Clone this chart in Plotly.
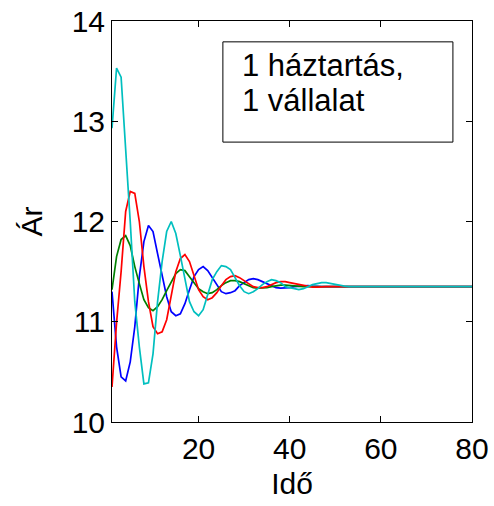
import plotly.graph_objects as go

# Time steps
t = list(range(1, 81))

# Price paths (Ár) over time (Idő)
price_blue = [
    11.30, 10.75, 10.45, 10.41, 10.60, 10.95, 11.45, 11.80, 11.96, 11.90,
    11.68, 11.45, 11.25, 11.10, 11.06, 11.08, 11.18, 11.32, 11.45, 11.52,
    11.55, 11.51, 11.44, 11.36, 11.30, 11.28, 11.29, 11.31, 11.36, 11.39,
    11.42, 11.43, 11.42, 11.40, 11.38, 11.36, 11.34, 11.335, 11.335, 11.34,
    11.35, 11.355, 11.36, 11.36, 11.355, 11.35, 11.35, 11.35, 11.35, 11.35,
    11.35, 11.35, 11.35, 11.35, 11.35, 11.35, 11.35, 11.35, 11.35, 11.35,
    11.35, 11.35, 11.35, 11.35, 11.35, 11.35, 11.35, 11.35, 11.35, 11.35,
    11.35, 11.35, 11.35, 11.35, 11.35, 11.35, 11.35, 11.35, 11.35, 11.35,
]
price_green = [
    11.32, 11.65, 11.82, 11.86, 11.76, 11.55, 11.38, 11.22, 11.14, 11.11,
    11.15, 11.22, 11.31, 11.40, 11.48, 11.52, 11.51, 11.45, 11.39, 11.33,
    11.30, 11.28, 11.29, 11.32, 11.36, 11.39, 11.41, 11.41, 11.40, 11.38,
    11.36, 11.34, 11.335, 11.335, 11.34, 11.35, 11.36, 11.365, 11.365, 11.36,
    11.355, 11.35, 11.35, 11.35, 11.35, 11.35, 11.35, 11.35, 11.35, 11.35,
    11.35, 11.35, 11.35, 11.35, 11.35, 11.35, 11.35, 11.35, 11.35, 11.35,
    11.35, 11.35, 11.35, 11.35, 11.35, 11.35, 11.35, 11.35, 11.35, 11.35,
    11.35, 11.35, 11.35, 11.35, 11.35, 11.35, 11.35, 11.35, 11.35, 11.35,
]
price_red = [
    10.35, 10.99, 11.50, 12.10, 12.30, 12.28, 12.00, 11.55, 11.20, 10.95,
    10.88, 10.90, 11.02, 11.25, 11.50, 11.63, 11.67, 11.60, 11.45, 11.32,
    11.25, 11.22, 11.24, 11.29, 11.36, 11.42, 11.45, 11.46, 11.44, 11.41,
    11.38, 11.35, 11.34, 11.34, 11.35, 11.37, 11.39, 11.40, 11.40, 11.39,
    11.38, 11.37, 11.36, 11.35, 11.345, 11.345, 11.35, 11.35, 11.35, 11.35,
    11.35, 11.35, 11.35, 11.35, 11.35, 11.35, 11.35, 11.35, 11.35, 11.35,
    11.35, 11.35, 11.35, 11.35, 11.35, 11.35, 11.35, 11.35, 11.35, 11.35,
    11.35, 11.35, 11.35, 11.35, 11.35, 11.35, 11.35, 11.35, 11.35, 11.35,
]
price_cyan = [
    12.93, 13.53, 13.44, 12.75, 12.00, 11.20, 10.75, 10.38, 10.39, 10.68,
    11.20, 11.60, 11.90, 12.00, 11.88, 11.66, 11.42, 11.20, 11.10, 11.06,
    11.12, 11.26, 11.42, 11.50, 11.56, 11.55, 11.52, 11.44, 11.36, 11.30,
    11.28, 11.30, 11.33, 11.37, 11.40, 11.42, 11.41, 11.39, 11.35, 11.34,
    11.33, 11.32, 11.33, 11.35, 11.37, 11.38, 11.39, 11.39, 11.38, 11.37,
    11.36, 11.355, 11.35, 11.35, 11.35, 11.35, 11.35, 11.35, 11.35, 11.35,
    11.35, 11.35, 11.35, 11.35, 11.35, 11.35, 11.35, 11.35, 11.35, 11.35,
    11.35, 11.35, 11.35, 11.35, 11.35, 11.35, 11.35, 11.35, 11.35, 11.35,
]

x_ticks = [20, 40, 60, 80]
y_ticks = [10, 11, 12, 13, 14]

FONT = "Liberation Sans, Arial, Helvetica, sans-serif"

series = [
    (price_blue, "#0000FF"),
    (price_green, "#008000"),
    (price_red, "#FF0000"),
    (price_cyan, "#00BFBF"),
]

fig = go.Figure()
for values, color in series:
    fig.add_trace(go.Scatter(
        x=t, y=values, mode="lines",
        line=dict(color=color, width=1.7),
        showlegend=False, hoverinfo="skip",
    ))

axis_common = dict(
    showline=True, linecolor="black", linewidth=1, mirror="allticks",
    ticks="inside", ticklen=6, tickwidth=1, tickcolor="black",
    showgrid=False, zeroline=False, automargin=False,
    tickfont=dict(family=FONT, size=30, color="black"),
)

fig.update_xaxes(
    range=[1, 80], tickvals=x_ticks, ticktext=[str(v) for v in x_ticks],
    title=dict(text="Idő", font=dict(family=FONT, size=30, color="black"), standoff=8),
    **axis_common,
)
fig.update_yaxes(
    range=[10, 14], tickvals=y_ticks, ticktext=[str(v) for v in y_ticks],
    title=dict(text="Ár", font=dict(family=FONT, size=30, color="black"), standoff=20),
    **axis_common,
)

# Text box in the upper right of the plot area
fig.add_shape(
    type="rect", xref="paper", yref="paper",
    x0=0.308, x1=0.947, y0=0.698, y1=0.948,
    line=dict(color="black", width=1), fillcolor="white", layer="above",
)
box_lines = ["1 háztartás,", "1 vállalat"]
for i, txt in enumerate(box_lines):
    fig.add_annotation(
        xref="paper", yref="paper", x=0.355, y=0.888 - i * 0.087,
        text=txt, showarrow=False, xanchor="left", yanchor="middle",
        font=dict(family=FONT, size=31, color="black"),
    )

fig.update_layout(
    width=494, height=506,
    margin=dict(l=112, r=22, t=21, b=84),
    paper_bgcolor="white", plot_bgcolor="white",
)

fig.write_html("out.html")
